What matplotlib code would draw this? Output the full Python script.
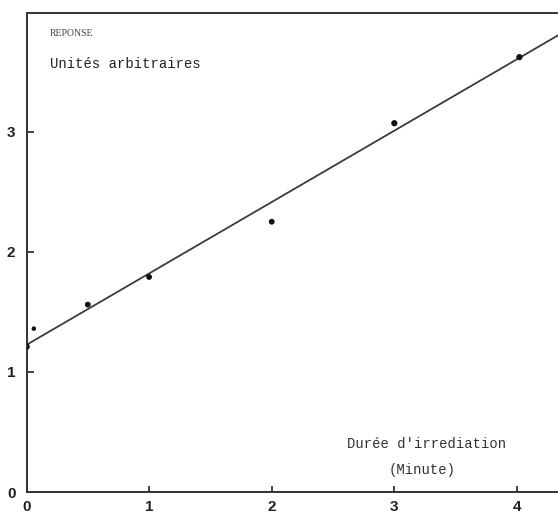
import matplotlib
matplotlib.use("Agg")
import matplotlib.pyplot as plt

duree = [0.0, 0.06, 0.5, 1.0, 2.0, 3.0, 4.02]
reponse = [1.21, 1.36, 1.56, 1.79, 2.25, 3.07, 3.62]
taille = [14, 5, 10, 10, 10, 12, 12]

# droite d'ajustement (deux extremites)
fit_x = [0.0, 4.4]
fit_y = [1.225, 3.84]

x_ticks = [0, 1, 2, 3, 4]
y_ticks = [0, 1, 2, 3]

fig = plt.figure(figsize=(5.58, 5.18), dpi=100)
ax = fig.add_axes([26.5 / 558, 26 / 518, (558 - 26.5) / 558, 479.3 / 518])

ax.plot(fit_x, fit_y, color="#3c3c3c", lw=1.3)
ax.scatter(duree, reponse, s=taille, color="#111111", zorder=3)

ax.set_xlim(0, 4.335)
ax.set_ylim(0, 3.99)

ax.spines["right"].set_visible(False)
for s in ["left", "bottom", "top"]:
    ax.spines[s].set_color("#333333")
    ax.spines[s].set_linewidth(1.4)

ax.set_xticks(x_ticks)
ax.set_yticks(y_ticks)
ax.set_xticklabels([str(v) for v in x_ticks], fontsize=11, fontweight="bold",
                   family="Liberation Sans")
ax.set_yticklabels([str(v) for v in y_ticks], fontsize=11, fontweight="bold",
                   family="Liberation Sans")
ax.tick_params(axis="x", direction="in", length=4, width=1.2, pad=6, colors="#222222")
ax.tick_params(axis="y", direction="in", length=5, width=1.2, pad=8, colors="#222222")

# textes tapes a la machine
ax.text(50 / 558, 33 / 518, "REPONSE", transform=fig.transFigure, fontsize=7,
        family="Liberation Serif", color="#444444", va="center")
ax.text(50 / 558, 64 / 518, "Unités arbitraires", transform=fig.transFigure,
        fontsize=10, family="Liberation Mono", color="#222222", va="center")
ax.text(427 / 558, 444 / 518, "Durée d'irrediation", transform=fig.transFigure,
        fontsize=10, family="Liberation Mono", color="#333333", ha="center", va="center")
ax.text(422 / 558, 470 / 518, "(Minute)", transform=fig.transFigure,
        fontsize=10, family="Liberation Mono", color="#333333", ha="center", va="center")

# coordonnees en pixels depuis le haut -> inverser
for t in ax.texts:
    x, y = t.get_position()
    t.set_position((x, 1 - y))

fig.savefig("out.png", dpi=100)
